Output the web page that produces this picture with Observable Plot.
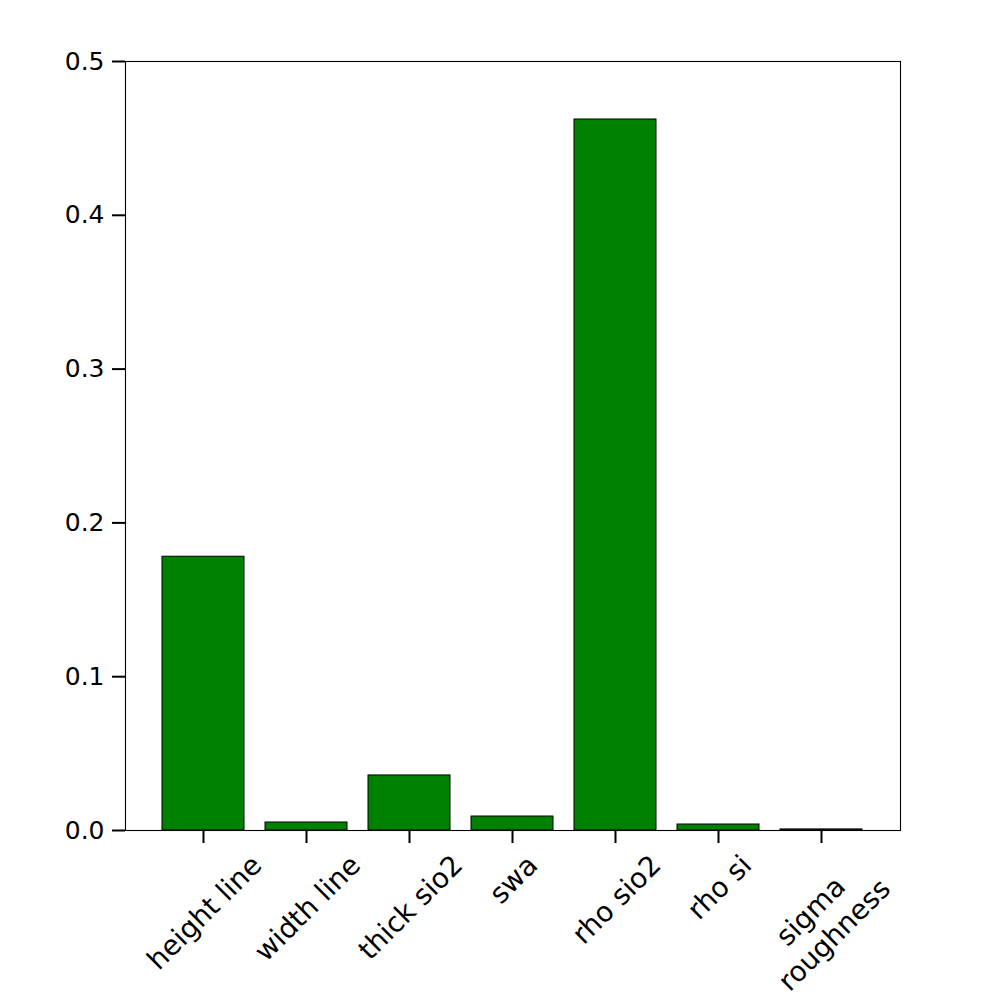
<!DOCTYPE html>
<html><head><meta charset="utf-8">
<script src="https://cdn.jsdelivr.net/npm/d3@7"></script>
<script src="https://cdn.jsdelivr.net/npm/@observablehq/plot@0.6"></script>
<style>body{margin:0;background:#fff}</style>
</head><body><div id="chart"></div>
<script>
const categories = ["height line","width line","thick sio2","swa","rho sio2","rho si","sigma\nroughness"];
const values = [0.178,0.0052,0.0358,0.0091,0.4623,0.0039,0.0007];
const yTicks = [0,0.1,0.2,0.3,0.4,0.5];
const data = categories.map((c,i)=>({category:c, value:values[i]}));

const FS = 25, XFS = 27.8, FONT = "DejaVu Sans";
const ctx = document.createElement("canvas").getContext("2d");
ctx.font = `${XFS}px "${FONT}"`;
const tickLen = 13, pad = 4, lh = 1.2;
function labelDy(label){
  const lines = label.split("\n");
  const w = Math.max(...lines.map(l=>ctx.measureText(l).width));
  const h = lines.length*lh*XFS;
  return tickLen + pad + (w+h)/(2*Math.SQRT2);
}

const plot = Plot.plot({
  width:1000, height:1000, marginLeft:125, marginRight:100, marginTop:61, marginBottom:170,
  style:{fontFamily:FONT, fontSize:FS+"px", background:"#fff", color:"#000"},
  x:{domain:categories, paddingInner:0.2, paddingOuter:0.34, align:0.5, axis:null},
  y:{domain:[0,0.5], axis:null},
  marks:[
    Plot.barY(data,{x:"category", y:"value", fill:"#008000", stroke:"#000", strokeWidth:1}),
    Plot.frame({stroke:"#000", strokeWidth:1.1}),
    Plot.axisY({ticks:yTicks, tickFormat:d3.format(".1f"), tickSize:13, tickPadding:8, strokeWidth:2, fontSize:FS, label:null}),
    Plot.axisX({tickSize:13, strokeWidth:2, tickFormat:()=>"", label:null}),
    ...categories.map(c=>Plot.text([c],{x:d=>d, frameAnchor:"bottom", dy:labelDy(c), rotate:-45, textAnchor:"middle", lineAnchor:"middle", lineHeight:lh, fontSize:XFS, fill:"#000"}))
  ]
});
document.getElementById("chart").appendChild(plot);
</script>
</body></html>
